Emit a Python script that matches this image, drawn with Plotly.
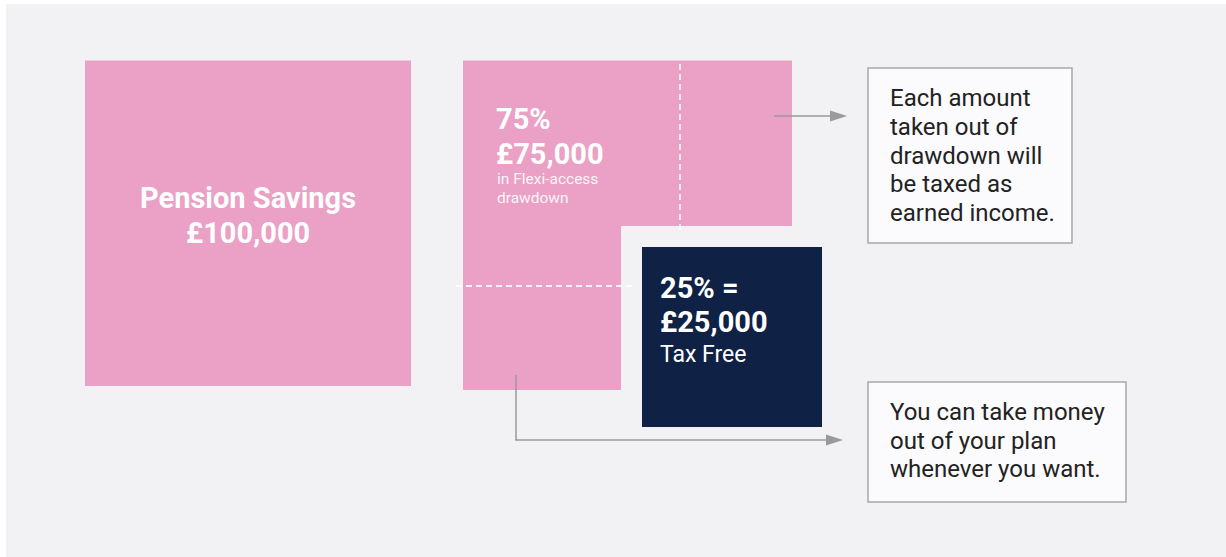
import plotly.graph_objects as go

# ---- data ----
total_label = "Pension Savings"
total_value = 100000
split_pct = [75, 25]
split_values = [75000, 25000]
split_notes = [["in Flexi-access", "drawdown"], ["Tax Free"]]
callout_top = ["Each amount", "taken out of", "drawdown will", "be taxed as", "earned income."]
callout_bottom = ["You can take money", "out of your plan", "whenever you want."]

# ---- styles ----
PANEL = "#f2f2f4"
PINK = "#eaa1c5"
NAVY = "#0f2145"
GREY = "#9a9a9a"
BOX_FILL = "#fbfafc"
BOX_LINE = "#a8a8a8"
TEXT_DARK = "#222222"
FONT = "Roboto"

def money(v):
    return f"£{v:,}"

shapes = []
annotations = []

def rect(x0, y0, x1, y1, fill, line_color=None, line_width=0):
    shapes.append(dict(type="rect", xref="x", yref="y", x0=x0, y0=y0, x1=x1, y1=y1,
                       fillcolor=fill, line=dict(color=line_color or fill, width=line_width),
                       layer="below"))

def line(x0, y0, x1, y1, color, width=1.5, dash="solid"):
    shapes.append(dict(type="line", xref="x", yref="y", x0=x0, y0=y0, x1=x1, y1=y1,
                       line=dict(color=color, width=width, dash=dash), layer="above"))

def path(d, fill):
    shapes.append(dict(type="path", xref="x", yref="y", path=d, fillcolor=fill,
                       line=dict(color=fill, width=0), layer="below"))

def text(x, y, s, size, color="white", bold=False, xanchor="left"):
    annotations.append(dict(x=x, y=y, xref="x", yref="y", text=s, showarrow=False,
                            xanchor=xanchor, yanchor="middle",
                            font=dict(family=FONT, size=size, color=color,
                                      weight=700 if bold else 400)))

# background panel
rect(6, 4, 1226, 557, PANEL)

# big square: total
rect(85, 60.5, 411, 386, PINK)
text(248, 198, total_label, 29, bold=True, xanchor="center")
text(248, 233, money(total_value), 29, bold=True, xanchor="center")

# L-shaped drawdown block
path("M463,60.5 L792,60.5 L792,226 L621,226 L621,390 L463,390 Z", PINK)
line(680, 64, 680, 232, "rgba(255,255,255,0.85)", 1.8, "6px,4px")
line(456, 286, 632, 286, "rgba(255,255,255,0.85)", 1.8, "6px,4px")
text(494, 119, f"{split_pct[0]}%", 29, bold=True)
text(494, 154, money(split_values[0]), 29, bold=True)
for i, s in enumerate(split_notes[0]):
    text(494.5, 179 + i * 18.5, s, 15.5, color="rgba(255,255,255,0.92)")

# navy tax-free box
rect(642, 247, 822, 427, NAVY)
text(657.5, 288, f"{split_pct[1]}% =", 29, bold=True)
text(657.5, 322, money(split_values[1]), 29, bold=True)
text(658, 354, split_notes[1][0], 23)

# arrows
line(774, 116, 832, 116, GREY, 1.5)
path("M830,110.5 L847,116 L830,121.5 Z", GREY)
line(516, 375, 516, 440, GREY, 1.5)
line(515.25, 440, 828, 440, GREY, 1.5)
path("M826,434.5 L843,440 L826,445.5 Z", GREY)

# callout boxes
rect(868, 68, 1072, 243, BOX_FILL, BOX_LINE, 1.5)
for i, s in enumerate(callout_top):
    text(887.5, 98 + i * 28.8, s, 24, color=TEXT_DARK)
rect(868, 382, 1126, 502, BOX_FILL, BOX_LINE, 1.5)
for i, s in enumerate(callout_bottom):
    text(887.5, 412 + i * 28.5, s, 24, color=TEXT_DARK)

fig = go.Figure()
fig.update_layout(
    width=1226, height=557,
    margin=dict(l=0, r=0, t=0, b=0),
    paper_bgcolor="white", plot_bgcolor="white",
    xaxis=dict(range=[0, 1226], visible=False, fixedrange=True),
    yaxis=dict(range=[557, 0], visible=False, fixedrange=True),
    shapes=shapes, annotations=annotations, showlegend=False,
)
fig.write_html("out.html",
               config={"displayModeBar": False, "staticPlot": True},
               post_script="document.body.style.margin='0';document.body.style.overflow='hidden';")
